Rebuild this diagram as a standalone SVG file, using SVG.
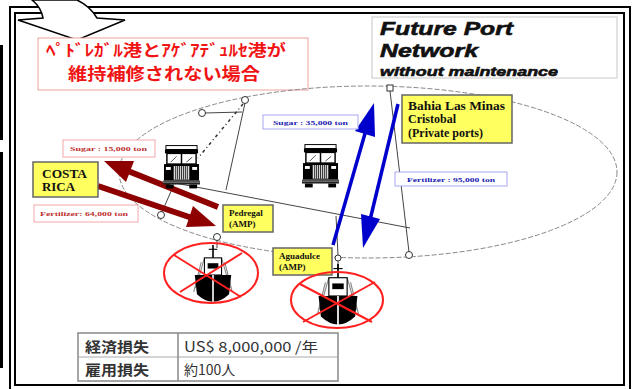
<svg xmlns="http://www.w3.org/2000/svg" xmlns:xlink="http://www.w3.org/1999/xlink" width="634" height="389" viewBox="0 0 634 389">
  <style>
    .frame { fill: none; stroke: #000; stroke-width: 2; }
    .wire { fill: none; stroke: #444; stroke-width: 1; }
    .dot { fill: #fff; stroke: #333; stroke-width: 1; }
    .yellow { fill: #ffff60; stroke: #666; stroke-width: 1.5; }
    .lbl { font-family: "Liberation Serif", "Times New Roman", serif; font-weight: bold; fill: #111; }
    .tag-red { fill: #fff; stroke: #f0a8a8; stroke-width: 1; }
    .tag-blue { fill: #fff; stroke: #a8a8f0; stroke-width: 1; }
    .tiny { font-family: "Liberation Serif", "Times New Roman", serif; font-weight: bold; font-size: 7px; }
    .ban { fill: none; stroke: #ff2020; stroke-width: 2; }
    .cell { font-family: "Noto Sans CJK JP", "Noto Sans", sans-serif; font-size: 14px; fill: #333; }
  </style>
  <defs>
    <!-- front view of a lorry -->
    <symbol id="truck" viewBox="0 0 38 44">
      <rect x="3" y="0" width="32" height="4" fill="#fff" stroke="#000" stroke-width="1"/>
      <rect x="2" y="4" width="34" height="4" fill="#000"/>
      <rect x="4" y="8" width="30" height="11" fill="#fff" stroke="#000" stroke-width="1.5"/>
      <line x1="19" y1="8" x2="19" y2="19" stroke="#000" stroke-width="1.5"/>
      <path d="M8,17 L14,11 M24,17 L30,12" stroke="#555" stroke-width="1"/>
      <rect x="1" y="19" width="36" height="17" fill="#000"/>
      <rect x="11" y="21" width="16" height="14" fill="#ddd"/>
      <path d="M13,21 V35 M15,21 V35 M17,21 V35 M19,21 V35 M21,21 V35 M23,21 V35 M25,21 V35" stroke="#000" stroke-width="0.8"/>
      <rect x="3" y="22" width="5" height="3" fill="#fff"/>
      <rect x="30" y="22" width="5" height="3" fill="#fff"/>
      <rect x="0" y="36" width="38" height="4" fill="#222"/>
      <rect x="0" y="37" width="38" height="1" fill="#999"/>
      <rect x="3" y="40" width="8" height="4" fill="#000"/>
      <rect x="27" y="40" width="8" height="4" fill="#000"/>
    </symbol>
    <!-- bow view of a cargo ship -->
    <symbol id="ship" viewBox="0 0 40 56">
      <line x1="20" y1="0" x2="20" y2="14" stroke="#000" stroke-width="1.5"/>
      <line x1="16" y1="4" x2="24" y2="4" stroke="#000" stroke-width="1"/>
      <path d="M12,12 L4,40 M28,12 L36,40 M9,16 L2,44 M31,16 L38,44" stroke="#888" stroke-width="1"/>
      <rect x="12" y="12" width="16" height="16" fill="#fff" stroke="#000" stroke-width="1"/>
      <rect x="15" y="17" width="10" height="5" fill="#000"/>
      <path d="M3,28 L37,28 L35,46 Q20,60 5,46 Z" fill="#000"/>
      <line x1="20" y1="28" x2="20" y2="56" stroke="#fff" stroke-width="1.5"/>
    </symbol>
  </defs>

  <rect width="634" height="389" fill="#fff"/>

  <!-- side bars -->
  <rect x="0" y="45" width="3" height="95" fill="#000"/>
  <rect x="0" y="152" width="3" height="216" fill="#000"/>

  <!-- double frame -->
  <rect class="frame" x="10" y="7" width="620" height="384"/>
  <rect class="frame" x="15" y="13" width="609" height="372"/>

  <!-- bent arrow entering from above -->
  <path d="M32,0 Q41,7 43,18 L18,20 L77,40 L125,20 L97,18 Q90,6 77,0 Z" fill="#fff" stroke="#000" stroke-width="1.5"/>

  <!-- heading -->
  <g id="heading">
    <rect x="38" y="38" width="270" height="52" fill="#fff" stroke="#f0a0a0" stroke-width="1"/>
    <text x="166" y="56" text-anchor="middle" font-family="Noto Sans CJK JP, sans-serif" font-weight="bold" font-size="16" fill="#f01414" textLength="240" lengthAdjust="spacingAndGlyphs">ﾍﾟﾄﾞﾚｶﾞﾙ港とｱｹﾞｱﾃﾞｭﾙｾ港が</text>
    <text x="164" y="80" text-anchor="middle" font-family="Noto Sans CJK JP, sans-serif" font-weight="bold" font-size="17" fill="#f01414" textLength="192" lengthAdjust="spacingAndGlyphs">維持補修されない場合</text>
  </g>

  <!-- title -->
  <g id="title">
    <rect x="372" y="17" width="245" height="61" fill="#fff" stroke="#c8c8c8" stroke-width="1"/>
    <g font-family="Liberation Sans, Arial, sans-serif" font-weight="bold" font-style="italic" fill="#111" stroke="#111" stroke-width="0.6">
      <text x="380" y="35" font-size="19" textLength="133" lengthAdjust="spacingAndGlyphs">Future Port</text>
      <text x="380" y="57" font-size="19" textLength="98" lengthAdjust="spacingAndGlyphs">Network</text>
      <text x="380" y="76" font-size="13" textLength="178" lengthAdjust="spacingAndGlyphs">without maintenance</text>
    </g>
  </g>

  <!-- network boundary -->
  <ellipse cx="368" cy="172" rx="249" ry="86" fill="none" stroke="#888" stroke-width="1" stroke-dasharray="5 2"/>

  <!-- connectors -->
  <g id="connectors">
    <line class="wire" x1="205" y1="113" x2="242" y2="112"/>
    <line class="wire" x1="245" y1="103" x2="226" y2="190"/>
    <line x1="243" y1="104" x2="198" y2="158" stroke="#333" stroke-width="1.5" stroke-dasharray="3 3 1 3"/>
    <line class="wire" x1="170" y1="182" x2="410" y2="228"/>
    <line class="wire" x1="390" y1="91" x2="409" y2="252"/>
    <line class="wire" x1="336" y1="216" x2="338" y2="255"/>
    <line class="wire" x1="338" y1="261" x2="338" y2="268"/>
    <line class="wire" x1="217" y1="240" x2="217" y2="248"/>
    <line class="wire" x1="172" y1="189" x2="162" y2="212"/>
    <!-- red flows: Costa Rica trade -->
    <g fill="#8e0000" stroke="#8e0000">
      <line x1="218" y1="207" x2="128" y2="171" stroke-width="6"/>
      <polygon points="104,161 134,161 126,182" stroke="none"/>
      <line x1="98" y1="186" x2="192" y2="218" stroke-width="6"/>
      <polygon points="216,226 186,227 193,206" stroke="none"/>
    </g>
    <!-- blue flows: Atlantic side -->
    <g fill="#0000cc" stroke="#0000cc">
      <line x1="333" y1="245" x2="366" y2="130" stroke-width="3.5"/>
      <polygon points="374,103 375,137 355,131" stroke="none"/>
      <line x1="398" y1="104" x2="370" y2="220" stroke-width="3.5"/>
      <polygon points="363,248 380,219 361,214" stroke="none"/>
    </g>
  </g>

  <!-- junction points -->
  <g id="junctions">
    <circle class="dot" cx="202" cy="113" r="3.5"/>
    <circle class="dot" cx="245" cy="100" r="3.5"/>
    <rect class="dot" x="387" y="85" width="6" height="6"/>
    <circle class="dot" cx="161" cy="215" r="3.5"/>
    <circle class="dot" cx="217" cy="237" r="3.5"/>
    <circle class="dot" cx="338" cy="258" r="3"/>
    <circle class="dot" cx="409" cy="255" r="3.5"/>
  </g>

  <g id="truck-pedregal"><use href="#truck" x="163" y="145" width="37" height="44"/></g>
  <g id="truck-aguadulce"><use href="#truck" x="302" y="144" width="37" height="44"/></g>

  <g id="costa-rica">
    <rect class="yellow" x="33" y="162" width="65" height="35" stroke-width="2"/>
    <text class="lbl" x="42" y="178" font-size="12.5" textLength="45" lengthAdjust="spacingAndGlyphs">COSTA</text>
    <text class="lbl" x="42" y="191" font-size="12.5" textLength="33" lengthAdjust="spacingAndGlyphs">RICA</text>
  </g>

  <g id="sugar-15000">
    <rect class="tag-red" x="63" y="140" width="92" height="17"/>
    <text class="tiny" x="70" y="151" fill="#c03030" textLength="77" lengthAdjust="spacingAndGlyphs">Sugar : 15,000 ton</text>
  </g>

  <g id="fertilizer-64000">
    <rect class="tag-red" x="34" y="205" width="104" height="17"/>
    <text class="tiny" x="40" y="216" fill="#c03030" textLength="88" lengthAdjust="spacingAndGlyphs">Fertilizer: 64,000 ton</text>
  </g>

  <g id="sugar-35000">
    <rect class="tag-blue" x="263" y="115" width="95" height="14"/>
    <text class="tiny" x="273" y="125" fill="#2020b0" textLength="75" lengthAdjust="spacingAndGlyphs">Sugar : 35,000 ton</text>
  </g>

  <g id="fertilizer-95000">
    <rect class="tag-blue" x="395" y="172" width="112" height="14"/>
    <text class="tiny" x="407" y="182" fill="#2020b0" textLength="88" lengthAdjust="spacingAndGlyphs">Fertilizer : 95,000 ton</text>
  </g>

  <g id="bahia-las-minas">
    <rect class="yellow" x="402" y="95" width="110" height="48"/>
    <text class="lbl" x="408" y="110" font-size="12" textLength="97" lengthAdjust="spacingAndGlyphs">Bahia Las Minas</text>
    <text class="lbl" x="408" y="123" font-size="12">Cristobal</text>
    <text class="lbl" x="408" y="137" font-size="12">(Private ports)</text>
  </g>

  <g id="pedregal">
    <rect class="yellow" x="223" y="205" width="50" height="27" stroke-width="1"/>
    <text class="lbl" x="229" y="216" font-size="9">Pedregal</text>
    <text class="lbl" x="229" y="227" font-size="9">(AMP)</text>
  </g>

  <g id="aguadulce">
    <rect class="yellow" x="273" y="248" width="59" height="27" stroke-width="1"/>
    <text class="lbl" x="279" y="259" font-size="9">Aguadulce</text>
    <text class="lbl" x="279" y="270" font-size="9">(AMP)</text>
  </g>

  <!-- ships struck out -->
  <g id="ship-pedregal">
    <use href="#ship" x="190" y="245" width="46" height="60"/>
    <ellipse class="ban" cx="211" cy="273" rx="47" ry="30"/>
    <line class="ban" x1="174" y1="255" x2="241" y2="297"/>
    <line class="ban" x1="242" y1="253" x2="180" y2="292"/>
  </g>
  <g id="ship-aguadulce">
    <use href="#ship" x="314" y="264" width="48" height="64"/>
    <ellipse class="ban" cx="337" cy="300" rx="46" ry="28"/>
    <line class="ban" x1="300" y1="284" x2="372" y2="322"/>
    <line class="ban" x1="375" y1="282" x2="303" y2="322"/>
  </g>

  <!-- losses table -->
  <g id="loss-table">
    <rect x="78" y="333" width="260" height="48" fill="#fff" stroke="#888" stroke-width="1.5"/>
    <line x1="78" y1="357" x2="338" y2="357" stroke="#aaa" stroke-width="1"/>
    <line x1="178" y1="333" x2="178" y2="381" stroke="#888" stroke-width="1.5"/>
    <text class="cell" x="85" y="352" font-weight="bold" textLength="64" lengthAdjust="spacingAndGlyphs">経済損失</text>
    <text class="cell" x="184" y="352" textLength="134" lengthAdjust="spacingAndGlyphs">US$ 8,000,000 /年</text>
    <text class="cell" x="85" y="375" font-weight="bold" textLength="64" lengthAdjust="spacingAndGlyphs">雇用損失</text>
    <text class="cell" x="184" y="375">約100人</text>
  </g>
</svg>
